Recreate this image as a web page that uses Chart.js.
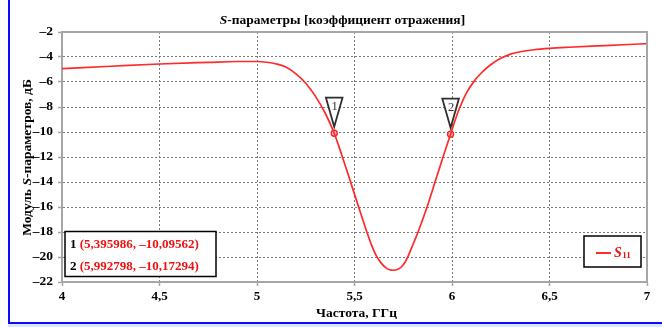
<!DOCTYPE html>
<html>
<head>
<meta charset="utf-8">
<script src="https://cdn.jsdelivr.net/npm/chart.js@4/dist/chart.umd.min.js"></script>
<style>
  html, body { margin: 0; padding: 0; background: #ffffff; }
  canvas { display: block; }
</style>
</head>
<body>
<canvas id="chart" width="662" height="327"></canvas>
<script>
// Frequency sweep, GHz
const freqGHz = [
  4.00, 4.25, 4.50, 4.75, 4.90, 5.00, 5.05, 5.10, 5.15, 5.20,
  5.25, 5.30, 5.35, 5.395986, 5.436, 5.477, 5.518, 5.559, 5.585, 5.61,
  5.635, 5.66, 5.68, 5.70, 5.72, 5.74, 5.76, 5.78, 5.80, 5.826,
  5.872, 5.913, 5.954, 5.992798, 6.015, 6.041, 6.075, 6.113, 6.15, 6.20,
  6.25, 6.30, 6.35, 6.42, 6.50, 6.60, 6.75, 6.88, 7.00
];
// |S11|, dB
const s11dB = [
  -4.93, -4.74, -4.56, -4.43, -4.36, -4.36, -4.42, -4.56, -4.82, -5.35,
  -6.10, -7.15, -8.50, -10.09562, -11.9, -13.85, -15.85, -17.8, -18.95, -19.85,
  -20.45, -20.85, -21.02, -21.06, -21.0, -20.8, -20.4, -19.75, -19.0, -18.0,
  -16.0, -14.0, -12.0, -10.17294, -9.1, -8.0, -6.85, -5.95, -5.28, -4.60,
  -4.10, -3.77, -3.58, -3.42, -3.31, -3.22, -3.11, -3.02, -2.93
];
// Markers
const markerIds = ['1', '2'];
const markerFreq = [5.395986, 5.992798];
const markerDb = [-10.09562, -10.17294];

// Axis ticks
const xTickValues = [4, 4.5, 5, 5.5, 6, 6.5, 7];
const xTickLabels = ['4', '4,5', '5', '5,5', '6', '6,5', '7'];
const yTickValues = [-2, -4, -6, -8, -10, -12, -14, -16, -18, -20, -22];
const yTickLabels = ['–2', '–4', '–6', '–8', '–10', '–12', '–14', '–16', '–18', '–20', '–22'];

const SERIF = '"Liberation Serif", "Times New Roman", serif';
const RED = '#ff2a2a';
const AXIS_GREY = '#a6a6a6';

function fmtNum(v, digits) {
  const s = v.toFixed(digits).replace('.', ',');
  return s.startsWith('-') ? '–' + s.slice(1) : s;
}

const decorations = {
  id: 'decorations',
  beforeDraw(chart) {
    const ctx = chart.ctx;
    ctx.save();
    ctx.fillStyle = '#ffffff';
    ctx.fillRect(0, 0, chart.width, chart.height);
    ctx.restore();
  },
  afterDatasetsDraw(chart) {
    const ctx = chart.ctx;
    const xs = chart.scales.x, ys = chart.scales.y;
    // marker flags
    ctx.save();
    for (let i = 0; i < markerIds.length; i++) {
      const px = xs.getPixelForValue(markerFreq[i]);
      const py = ys.getPixelForValue(markerDb[i]);
      const tipY = py - 6.5, topY = tipY - 29, hw = 8.3;
      ctx.beginPath();
      ctx.moveTo(px - hw, topY);
      ctx.lineTo(px + hw, topY);
      ctx.lineTo(px, tipY);
      ctx.closePath();
      ctx.fillStyle = '#ffffff';
      ctx.fill();
      ctx.lineWidth = 1.8;
      ctx.strokeStyle = '#2e2e2e';
      ctx.lineJoin = 'miter';
      ctx.stroke();
      ctx.fillStyle = '#333333';
      ctx.font = '12.5px ' + SERIF;
      ctx.textAlign = 'center';
      ctx.textBaseline = 'alphabetic';
      ctx.fillText(markerIds[i], px + 0.5, topY + 12.5);
    }
    ctx.restore();
  },
  afterDraw(chart) {
    const ctx = chart.ctx;
    const a = chart.chartArea;
    ctx.save();

    // plot frame (top and right)
    ctx.strokeStyle = AXIS_GREY;
    ctx.lineWidth = 2;
    ctx.beginPath();
    ctx.moveTo(a.left - 1, a.top);
    ctx.lineTo(a.right, a.top);
    ctx.lineTo(a.right, a.bottom + 1);
    ctx.stroke();

    // outer blue frame
    ctx.fillStyle = '#dce6fb';
    ctx.fillRect(8, 324, chart.width - 8, 3);
    ctx.fillStyle = '#0a0aff';
    ctx.fillRect(8, 0, 2, 324);
    ctx.fillRect(8, 322, chart.width - 8, 2);

    // title
    ctx.fillStyle = '#000000';
    ctx.textBaseline = 'alphabetic';
    ctx.textAlign = 'left';
    const tFontI = 'italic bold 13.5px ' + SERIF;
    const tFont = 'bold 13.5px ' + SERIF;
    const t1 = 'S', t2 = '-параметры [коэффициент отражения]';
    ctx.font = tFontI; const w1 = ctx.measureText(t1).width;
    ctx.font = tFont; const w2 = ctx.measureText(t2).width;
    let tx = 342.5 - (w1 + w2) / 2;
    ctx.font = tFontI; ctx.fillText(t1, tx, 23.5);
    ctx.font = tFont; ctx.fillText(t2, tx + w1, 23.5);

    // x axis title
    ctx.font = 'bold 13.5px ' + SERIF;
    ctx.textAlign = 'center';
    ctx.fillText('Частота, ГГц', (a.left + a.right) / 2 + 2, 316.5);

    // y axis title (rotated)
    ctx.save();
    ctx.translate(31, 157.5);
    ctx.rotate(-Math.PI / 2);
    const y1 = 'Модуль ', y2 = 'S', y3 = '-параметров, дБ';
    ctx.font = tFont; const wy1 = ctx.measureText(y1).width, wy3 = ctx.measureText(y3).width;
    ctx.font = tFontI; const wy2 = ctx.measureText(y2).width;
    let ty = -(wy1 + wy2 + wy3) / 2;
    ctx.textAlign = 'left';
    ctx.font = tFont; ctx.fillText(y1, ty, 0);
    ctx.font = tFontI; ctx.fillText(y2, ty + wy1, 0);
    ctx.font = tFont; ctx.fillText(y3, ty + wy1 + wy2, 0);
    ctx.restore();

    // marker readout box
    ctx.fillStyle = '#ffffff';
    ctx.fillRect(65, 231.5, 151, 45);
    ctx.strokeStyle = '#000000';
    ctx.lineWidth = 1.5;
    ctx.strokeRect(65, 231.5, 151, 45);
    ctx.font = 'bold 13px ' + SERIF;
    ctx.textAlign = 'left';
    for (let i = 0; i < markerIds.length; i++) {
      const by = 248 + i * 22;
      const lead = markerIds[i] + ' ';
      ctx.fillStyle = '#000000';
      ctx.fillText(lead, 70, by);
      const lw = ctx.measureText(lead).width;
      ctx.fillStyle = '#ee1111';
      ctx.fillText('(' + fmtNum(markerFreq[i], 6) + ', ' + fmtNum(markerDb[i], 5) + ')', 70 + lw, by);
    }

    // legend box
    ctx.fillStyle = '#ffffff';
    ctx.fillRect(584, 236, 57, 31);
    ctx.strokeStyle = '#000000';
    ctx.lineWidth = 1.5;
    ctx.strokeRect(584, 236, 57, 31);
    ctx.strokeStyle = RED;
    ctx.lineWidth = 2;
    ctx.beginPath();
    ctx.moveTo(596, 253);
    ctx.lineTo(611, 253);
    ctx.stroke();
    ctx.fillStyle = '#ee1111';
    ctx.font = 'italic bold 14px ' + SERIF;
    ctx.fillText('S', 614, 257);
    const sw = ctx.measureText('S').width;
    ctx.font = 'bold 9px ' + SERIF;
    ctx.fillText('11', 614 + sw + 0.5, 257.5);

    ctx.restore();
  }
};

new Chart(document.getElementById('chart'), {
  type: 'line',
  data: {
    datasets: [
      {
        label: 'S11',
        data: freqGHz.map((f, i) => ({ x: f, y: s11dB[i] })),
        borderColor: RED,
        borderWidth: 1.7,
        pointRadius: 0,
        cubicInterpolationMode: 'monotone',
        fill: false
      },
      {
        label: 'markers',
        data: markerFreq.map((f, i) => ({ x: f, y: markerDb[i] })),
        showLine: false,
        pointStyle: 'circle',
        pointRadius: 3,
        pointBorderWidth: 1.4,
        pointBorderColor: '#ff2020',
        pointBackgroundColor: '#ffc0c0'
      }
    ]
  },
  options: {
    responsive: false,
    animation: false,
    devicePixelRatio: 1,
    layout: { padding: { left: 0, right: 15, top: 32, bottom: 0 } },
    plugins: {
      legend: { display: false },
      title: { display: false },
      tooltip: { enabled: false }
    },
    scales: {
      x: {
        type: 'linear',
        min: 4,
        max: 7,
        afterFit(scale) { scale.height = 45; },
        afterBuildTicks(scale) { scale.ticks = xTickValues.map(v => ({ value: v })); },
        ticks: {
          padding: 3,
          maxRotation: 0,
          autoSkip: false,
          color: '#000000',
          font: { family: SERIF, size: 13, weight: 'bold' },
          callback: (v) => xTickLabels[xTickValues.indexOf(v)]
        },
        grid: {
          color: '#7a7a7a',
          lineWidth: 1,
          tickLength: 4,
          tickColor: AXIS_GREY,
          tickWidth: 1.5
        },
        border: { display: true, color: AXIS_GREY, width: 2, dash: [2, 2] }
      },
      y: {
        type: 'linear',
        min: -22,
        max: -2,
        afterFit(scale) { scale.width = 62; },
        afterBuildTicks(scale) { scale.ticks = yTickValues.slice().reverse().map(v => ({ value: v })); },
        ticks: {
          padding: 5,
          autoSkip: false,
          color: '#000000',
          font: { family: SERIF, size: 13.5, weight: 'bold' },
          callback: (v) => yTickLabels[yTickValues.indexOf(v)]
        },
        grid: {
          color: '#7a7a7a',
          lineWidth: 1,
          tickLength: 4,
          tickColor: AXIS_GREY,
          tickWidth: 1.5
        },
        border: { display: true, color: AXIS_GREY, width: 2, dash: [2, 2] }
      }
    }
  },
  plugins: [decorations]
});
</script>
</body>
</html>
